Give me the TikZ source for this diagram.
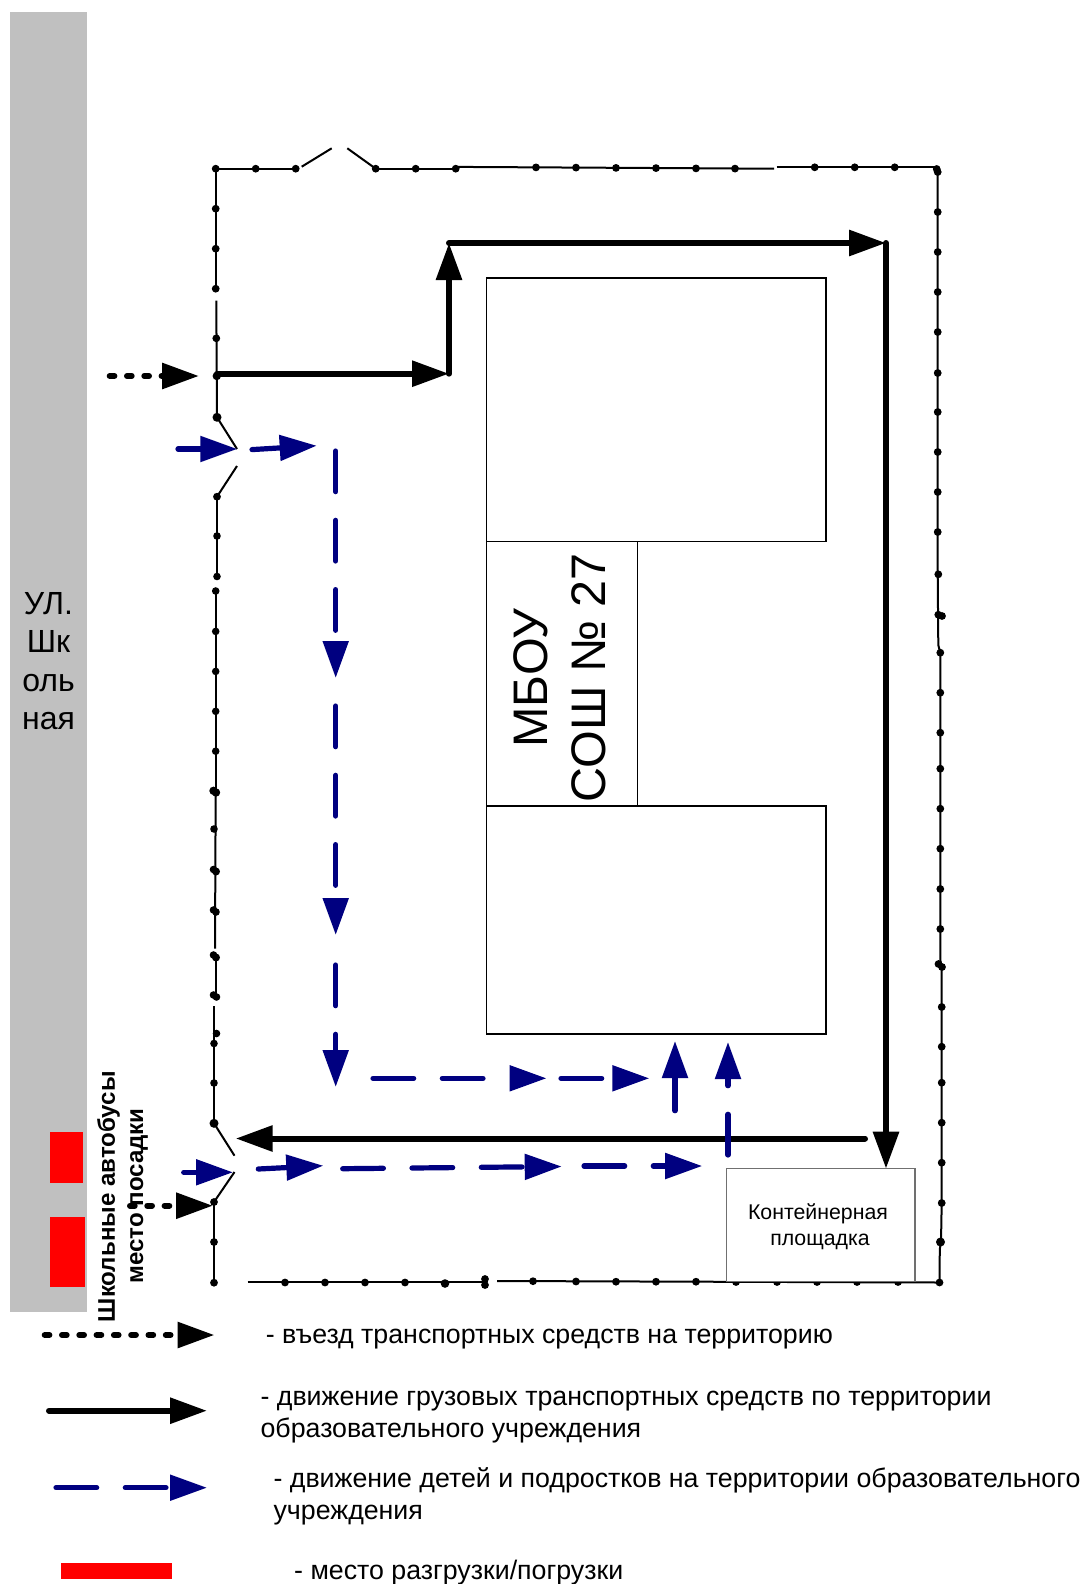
\documentclass[tikz,border=0pt]{standalone}
\usepackage{fontspec}
\setmainfont{Liberation Sans}
\usetikzlibrary{arrows.meta}
\definecolor{roadgray}{HTML}{C0C0C0}
\definecolor{navyblue}{HTML}{000080}
\definecolor{boxgray}{HTML}{707070}
\tikzset{
 x=1pt,y=-1pt,
 fence/.style={line width=2pt,black},
 tip/.style={-{Triangle[length=37pt,width=25pt]}},
 truck/.style={tip,line width=6pt,black,line cap=round},
 entry/.style={tip,line width=6pt,black,line cap=round,dash pattern=on 4.7pt off 12.6pt},
 kids/.style={tip,line width=5.2pt,navyblue,line cap=round},
 kidsdash/.style={kids,dash pattern=on 40.7pt off 28.6pt},
 bld/.style={draw=black,line width=1.8pt,inner sep=0pt},
 lbl/.style={inner sep=0pt,anchor=base west,align=left,font=\fontsize{26.75}{32}\selectfont},
}
\begin{document}
\begin{tikzpicture}
\useasboundingbox (0,0) rectangle (1085,1584);
\fill[white] (0,0) rectangle (1085,1584);
% road
\fill[roadgray] (10,12) rectangle (87.3,1311.7);
\node[align=center,inner sep=0pt,font=\fontsize{32}{38.5}\selectfont] (street) at (48.5,661) {УЛ.\\Шк\\оль\\ная};
\fill[red] (49.7,1132.3) rectangle (83.3,1182.7);
\fill[red] (49.7,1217) rectangle (85.3,1286.7);
\fill[red] (61,1562.5) rectangle (172.3,1579.3);
% buildings
\draw[bld] (486.5,277.8) rectangle (826,541.5);
\draw[bld] (486.5,541.5) rectangle (637.5,806);
\draw[bld] (486.5,806) rectangle (826,1034);
\node[rotate=90,inner sep=0pt,font=\fontsize{48.5}{58}\selectfont,align=center] (school) at (560,678) {МБОУ\\СОШ № 27};
% fence lines
\draw[fence] (215.7,168.7)--(295.7,168.7);
\draw[fence] (301.7,166.7)--(331.7,148.3);
\draw[fence] (347.3,148.3)--(375.7,168.7);
\draw[fence] (375.7,168.7)--(455.7,168.7);
\draw[fence] (455.7,166.9)--(774,168.7);
\draw[fence] (776.7,167.3)--(937,167.3);
\draw[fence] (937.7,172)--(937.7,574)--(938.3,645)--(940.3,653)--(940.3,960)--(941.7,967)--(941.7,1203)--(941,1242)--(939.8,1249)--(939.5,1282);
\draw[fence] (215.7,168.7)--(215.7,288.7);
\draw[fence] (216.3,300.7)--(217,417.3);
\draw[fence] (217,417.3)--(237,449);
\draw[fence] (237,466)--(217,496.7);
\draw[fence] (217,496.7)--(217,576.5);
\draw[fence] (215.7,591)--(215.7,790);
\draw[fence] (215.7,790)--(215,948.5);
\draw[fence] (215.5,957)--(215.5,996);
\draw[fence] (214,1006)--(214,1123.3);
\draw[fence] (214,1123.3)--(234.5,1155.7);
\draw[fence] (234.5,1172)--(214,1202);
\draw[fence] (214,1202)--(214,1282.7);
\draw[fence] (247.7,1282.3)--(485,1282.3);
\draw[fence] (497,1281)--(939.5,1282.5);
% fence posts
\foreach \px/\py/\pr in {215.7/168.7/3.9,255.7/168.7/3.9,295.7/168.7/3.9,375.7/168.7/3.9,415.7/168.7/3.9,455.7/168.7/3.9,536/167.4/3.9,576/167.6/3.9,616/167.9/3.9,656/168.1/3.9,696/168.4/3.9,735/168.6/3.9,814.7/167.3/3.9,854.7/167.3/3.9,894.7/167.3/3.9,936.7/169/3.9,937.7/172/3.9,
215.7/208.7/3.9,215.7/248.7/3.9,215.7/288.7/3.9,216.3/338.3/3.9,216.8/376/4.2,217/417.3/4.5,217/496.7/3.9,
217/536/3.8,217/576.5/3.8,215.7/591/3.8,215.7/631.4/3.8,215.7/671.4/3.8,215.7/711.3/3.8,215.7/751.2/3.8,213.5/790.8/4.2,216/792.5/4.2,214/829/3.8,213.5/869.5/3.8,216/871.5/4,213.5/910/3.8,216/912/3.8,213.5/955/3.8,216/957.5/4,213.5/995/3.8,216.5/997/3.8,216.5/1033.5/3.8,214/1043.5/3.8,214/1083/3.8,214/1123.3/4.5,214/1202/3.9,214/1242/3.9,214/1282.7/3.9,
285/1282.5/3.9,325/1282.5/3.9,365/1282.5/3.9,405/1282.5/3.9,445/1283.5/4.3,485/1279/3.9,485/1285/3.9,
533/1281.2/3.9,576/1281.5/3.9,616/1281.7/3.9,656/1281.7/3.9,696/1281.7/3.9,736/1282/3.9,777/1282/3.9,817/1282/3.9,857/1282/3.9,898/1282/3.9,939.5/1282.5/3.9,
937.7/212/3.9,937.7/252/3.9,937.7/292/3.9,937.7/332/3.9,937.7/373/3.9,937.7/412/3.9,937.7/452/3.9,937.7/492/3.9,937.7/532/3.9,938.3/574.3/3.9,938.3/614.7/3.9,942/616/3.9,
940.3/652.7/3.9,940.3/692.7/3.9,940.3/732.7/3.9,940.3/768.7/3.9,940.3/808.7/3.9,940.3/848.7/3.9,940.3/889/3.9,940.3/929/3.9,938.5/964/3.9,942/967/3.9,941.7/1007/3.9,941.7/1046.7/3.9,941.7/1082.7/3.9,941.7/1122.7/3.9,941.7/1162.7/3.9,941.7/1203/3.9,940.5/1242/4.5}
 \fill (\px,\py) circle (\pr pt);
% container
\draw[draw=boxgray,fill=white,line width=1.3pt] (726.3,1168.7) rectangle (915,1281.2);
\node[inner sep=0pt,align=center,font=\fontsize{21.3}{26.5}\selectfont] (cont) at (818,1226.7) {Контейнерная\\ \hspace{4pt}площадка};
% route coordinates
\coordinate (e1a) at (109.7,376); \coordinate (e1b) at (199,376);
\coordinate (e2a) at (130,1205.7); \coordinate (e2b) at (213,1205.7);
\coordinate (t1) at (217,373.7); \coordinate (t2) at (449,373.7); \coordinate (t3) at (449,243);
\coordinate (t3b) at (449,243); \coordinate (t4) at (886,243); \coordinate (t5) at (886,1168.7);
\coordinate (t6) at (865,1138.5); \coordinate (t7) at (235.7,1138.5);
\coordinate (k1) at (178,449); \coordinate (k2) at (237.3,449);
\coordinate (k3) at (252,449.6); \coordinate (k4) at (316.7,445.7);
\coordinate (k5) at (335.7,451); \coordinate (k6) at (335.7,678);
\coordinate (k7) at (335.7,706); \coordinate (k8) at (335.7,935);
\coordinate (k9) at (335.7,965); \coordinate (k10) at (335.7,1087);
\coordinate (k11) at (373,1078.3); \coordinate (k12) at (546.5,1078.3);
\coordinate (k13) at (561,1078.3); \coordinate (k14) at (649.3,1078.3);
\coordinate (k15) at (675,1110.7); \coordinate (k16) at (675,1041);
\coordinate (k17) at (728,1155); \coordinate (k18) at (728,1042);
\coordinate (k19) at (183.7,1172.3); \coordinate (k20) at (233,1172.3);
\coordinate (k21) at (258.3,1169); \coordinate (k22) at (323.3,1165.7);
\coordinate (k23) at (342.7,1168.7); \coordinate (k24) at (561.7,1166.5);
\coordinate (k25) at (584,1166); \coordinate (k26) at (702.2,1166);
\draw[entry] (e1a)--(e1b);
\draw[entry] (e2a)--(e2b);
\draw[truck] (t1)--(t2);
\draw[truck] (t2)--(t3);
\draw[truck] (t3b)--(t4);
\draw[truck] (t4)--(t5);
\draw[truck] (t6)--(t7);
\draw[kids] (k1)--(k2);
\draw[kids] (k3)--(k4);
\draw[kidsdash] (k5)--(k6);
\draw[kidsdash] (k7)--(k8);
\draw[kidsdash] (k9)--(k10);
\draw[kidsdash] (k11)--(k12);
\draw[kidsdash] (k13)--(k14);
\draw[kids] (k15)--(k16);
\draw[kidsdash] (k17)--(k18);
\draw[kids] (k19)--(k20);
\draw[kids] (k21)--(k22);
\draw[kidsdash] (k23)--(k24);
\draw[kidsdash] (k25)--(k26);
% bus labels
\node[rotate=90,inner sep=0pt,font=\bfseries\fontsize{24.1}{29}\selectfont] (bus1) at (108.5,1196.7) {Школьные автобусы};
\node[rotate=90,inner sep=0pt,font=\bfseries\fontsize{24.1}{29}\selectfont] (bus2) at (139,1196) {место посадки};
% legend
\coordinate (l1a) at (44.7,1335); \coordinate (l1b) at (214.5,1335);
\coordinate (l2a) at (49,1410.7); \coordinate (l2b) at (207,1410.7);
\coordinate (l3a) at (56,1487.7); \coordinate (l3b) at (207,1487.7);
\draw[entry] (l1a)--(l1b);
\draw[truck] (l2a)--(l2b);
\draw[kidsdash] (l3a)--(l3b);
\node[lbl] (n1) at (265.7,1343) {- въезд транспортных средств на территорию};
\node[lbl] (n2a) at (260.4,1405) {- движение грузовых транспортных средств по территории};
\node[lbl] (n2b) at (260.4,1437) {образовательного учреждения};
\node[lbl] (n3a) at (273.4,1487.3) {- движение детей и подростков на территории образовательного};
\node[lbl] (n3b) at (273.4,1519) {учреждения};
\node[lbl] (n4) at (294,1579.5) {- место разгрузки/погрузки};
\end{tikzpicture}
\end{document}
